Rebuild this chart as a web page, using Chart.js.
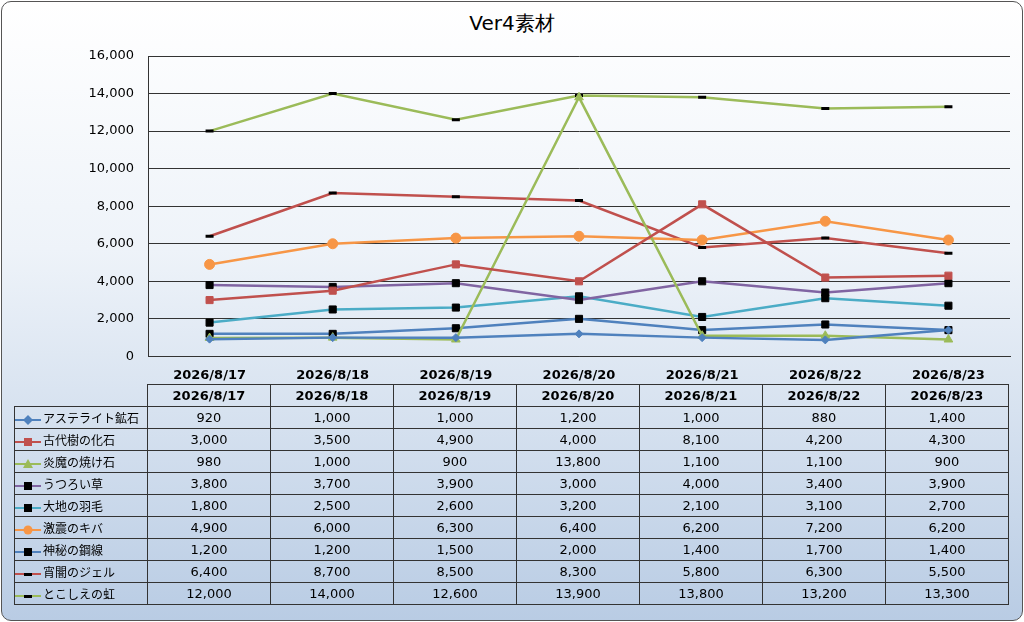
<!DOCTYPE html>
<html><head><meta charset="utf-8">
<script src="https://cdn.jsdelivr.net/npm/chart.js@4"></script>
<style>
body{margin:0;width:1024px;height:622px;overflow:hidden;font-family:"Noto Sans CJK JP","DejaVu Sans",sans-serif;}
#frame{position:absolute;left:1px;top:1px;width:1020px;height:618px;border:1px solid #555;border-radius:10px;
 background:linear-gradient(to bottom,#ffffff 0%,#eef3f9 40%,#b9cce4 100%);overflow:hidden;}
#title{position:absolute;top:10px;left:0;width:1024px;text-align:center;font-size:20px;font-family:"DejaVu Sans",sans-serif;}
#cv{position:absolute;left:0;top:0;}
table{position:absolute;left:14px;top:384px;border-collapse:collapse;font-size:13px;font-family:"DejaVu Sans","Noto Sans CJK JP",sans-serif;}
td{border:1px solid #333;height:21px;padding:0;text-align:center;width:122px;}
td.lg{width:132px;text-align:left;font-size:12px;font-family:"Noto Sans CJK JP",sans-serif;white-space:nowrap;}
tr.hd td{font-weight:bold;}
tr.hd td.lg{border:none;}
canvas.mk{vertical-align:middle;margin-right:2px;}
</style></head><body>
<div id="frame"></div>
<div id="title">Ver4素材</div>
<canvas id="cv" width="1024" height="386"></canvas>
<table id="tb"></table>
<script>
const dates = ['2026/8/17','2026/8/18','2026/8/19','2026/8/20','2026/8/21','2026/8/22','2026/8/23'];
const names = ['アステライト鉱石','古代樹の化石','炎魔の焼け石','うつろい草','大地の羽毛','激震のキバ','神秘の鋼線','宵闇のジェル','とこしえの虹'];
const asterite = [920,1000,1000,1200,1000,880,1400];
const kodaiju = [3000,3500,4900,4000,8100,4200,4300];
const enma = [980,1000,900,13800,1100,1100,900];
const utsuroi = [3800,3700,3900,3000,4000,3400,3900];
const daichi = [1800,2500,2600,3200,2100,3100,2700];
const gekishin = [4900,6000,6300,6400,6200,7200,6200];
const shinpi = [1200,1200,1500,2000,1400,1700,1400];
const yoiyami = [6400,8700,8500,8300,5800,6300,5500];
const tokoshie = [12000,14000,12600,13900,13800,13200,13300];
const yTicks = [0,2000,4000,6000,8000,10000,12000,14000,16000];

const series = [asterite,kodaiju,enma,utsuroi,daichi,gekishin,shinpi,yoiyami,tokoshie];
const lineColors = ['#4F81BD','#C0504D','#9BBB59','#8064A2','#4BACC6','#F79646','#4F81BD','#C0504D','#9BBB59'];
const markColors = ['#4F81BD','#C0504D','#9BBB59','#000','#000','#F79646','#000','#000','#000'];
const styles = ['rectRot','rect','triangle','rect','rect','circle','rect','line','line'];
const radii = [4,5,5,5,5,5,5,4,4];

new Chart(document.getElementById('cv'), {
  type: 'line',
  data: {
    labels: dates,
    datasets: series.map((d,i) => ({
      label: names[i], data: d, borderColor: lineColors[i], borderWidth: 2.5,
      pointStyle: styles[i], pointRadius: radii[i], pointBackgroundColor: markColors[i],
      pointBorderColor: markColors[i], pointBorderWidth: styles[i]==='line' ? 3 : 1, tension: 0
    }))
  },
  options: {
    responsive: false, animation: false,
    layout: { padding: { left: 0, right: 14, top: 56, bottom: 0 } },
    plugins: { legend: { display: false }, tooltip: { enabled: false } },
    scales: {
      x: { offset: true, grid: { display: false }, border: { color: '#333' },
           ticks: { color: '#000', font: { size: 13, weight: 'bold', family: 'DejaVu Sans' }, maxRotation: 0 } },
      y: { min: 0, max: 16000, afterFit: s => { s.width = 148; },
           afterBuildTicks: s => { s.ticks = yTicks.map(v => ({ value: v })); },
           grid: { color: '#333', drawTicks: false }, border: { color: '#333' },
           ticks: { color: '#000', padding: 14, font: { size: 13, family: 'DejaVu Sans' },
                    callback: v => v.toLocaleString('en-US') } }
    }
  }
});

function marker(i) {
  const c = document.createElement('canvas'); c.width = 26; c.height = 12; c.className = 'mk';
  const g = c.getContext('2d');
  g.strokeStyle = lineColors[i]; g.lineWidth = 2; g.beginPath(); g.moveTo(0,6); g.lineTo(26,6); g.stroke();
  g.fillStyle = markColors[i];
  const s = styles[i];
  if (s === 'rect') g.fillRect(9,2,8,8);
  else if (s === 'rectRot') { g.beginPath(); g.moveTo(13,1); g.lineTo(18,6); g.lineTo(13,11); g.lineTo(8,6); g.fill(); }
  else if (s === 'triangle') { g.beginPath(); g.moveTo(13,1); g.lineTo(18,10); g.lineTo(8,10); g.fill(); }
  else if (s === 'circle') { g.beginPath(); g.arc(13,6,4.5,0,7); g.fill(); }
  else g.fillRect(9,5,8,3);
  return c;
}
const tb = document.getElementById('tb');
let tr = tb.insertRow(); tr.className = 'hd';
tr.insertCell().className = 'lg';
dates.forEach(d => { tr.insertCell().textContent = d; });
series.forEach((d,i) => {
  const r = tb.insertRow();
  const c = r.insertCell(); c.className = 'lg'; c.appendChild(marker(i)); c.appendChild(document.createTextNode(names[i]));
  d.forEach(v => { r.insertCell().textContent = v.toLocaleString('en-US'); });
});
</script>
</body></html>
